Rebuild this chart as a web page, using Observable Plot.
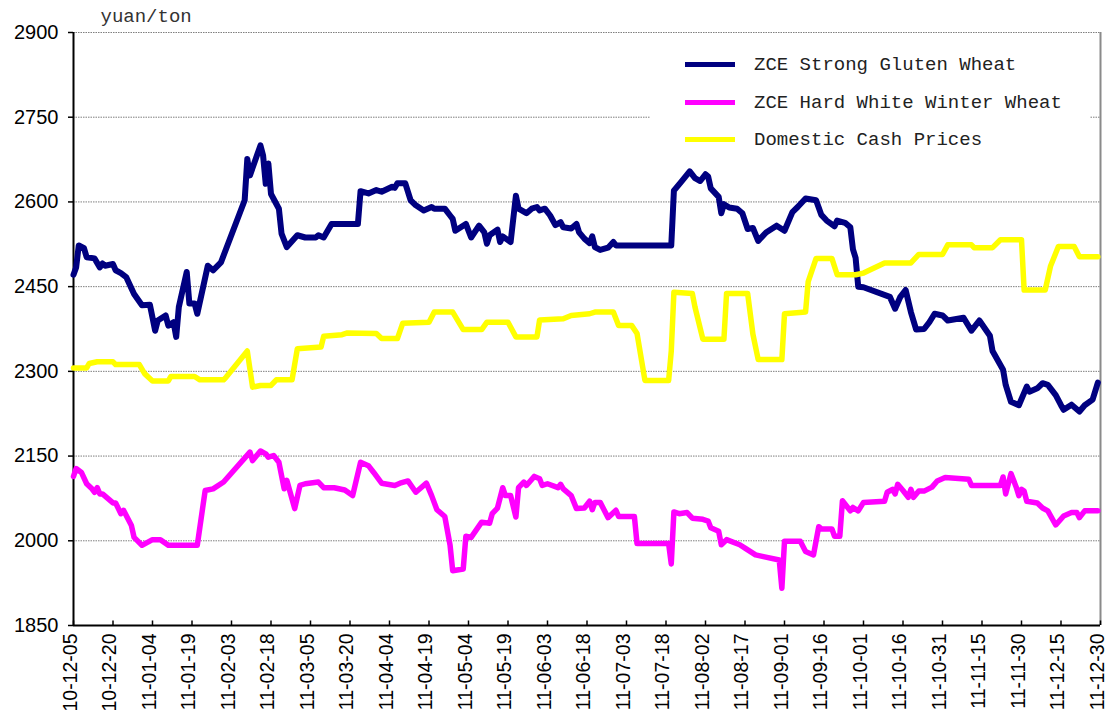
<!DOCTYPE html>
<html><head><meta charset="utf-8">
<script src="https://cdn.jsdelivr.net/npm/d3@7"></script>
<script src="https://cdn.jsdelivr.net/npm/@observablehq/plot@0.6"></script>
<style>
body{margin:0;background:#fff;}
#wrap{position:relative;width:1107px;height:726px;overflow:hidden;background:#fff;}
#legend{position:absolute;left:650px;top:36px;width:440px;height:124px;background:#fff;font-family:"Liberation Mono","DejaVu Sans Mono",monospace;font-size:19px;color:#222;}
.item{position:absolute;left:0;height:20px;}
.sw{position:absolute;left:35px;top:8px;width:50px;height:5px;}
.lb{position:absolute;left:104px;top:0px;white-space:nowrap;}
</style></head>
<body><div id="wrap"><div id="chart"></div><div id="legend"></div></div>
<script>
// ---- data ----
const seriesNames = ["ZCE Strong Gluten Wheat", "ZCE Hard White Winter Wheat", "Domestic Cash Prices"];
const seriesColors = ["#000080", "#FF00FF", "#FFFF00"];
const yTicks = [1850, 2000, 2150, 2300, 2450, 2600, 2750, 2900];
const xTickDates = ["2010-12-05","2010-12-20","2011-01-04","2011-01-19","2011-02-03","2011-02-18","2011-03-05","2011-03-20","2011-04-04","2011-04-19","2011-05-04","2011-05-19","2011-06-03","2011-06-18","2011-07-03","2011-07-18","2011-08-02","2011-08-17","2011-09-01","2011-09-16","2011-10-01","2011-10-16","2011-10-31","2011-11-15","2011-11-30","2011-12-15","2011-12-30"];
const unitLabel = "yuan/ton";

const strongGluten = [
["2010-12-05",2471],["2010-12-06",2484],["2010-12-07",2523],["2010-12-09",2518],["2010-12-10",2502],["2010-12-13",2500],["2010-12-15",2484],["2010-12-16",2491],["2010-12-17",2487],["2010-12-20",2490],["2010-12-21",2479],["2010-12-23",2474],["2010-12-25",2467],["2010-12-28",2437],["2010-12-31",2417],
["2011-01-03",2418],["2011-01-05",2372],["2011-01-06",2390],["2011-01-09",2399],["2011-01-10",2381],["2011-01-12",2387],["2011-01-13",2361],["2011-01-14",2414],["2011-01-17",2476],["2011-01-18",2420],["2011-01-20",2420],["2011-01-21",2402],["2011-01-25",2487],["2011-01-27",2479],["2011-01-30",2493],
["2011-02-08",2603],["2011-02-09",2676],["2011-02-10",2647],["2011-02-14",2700],["2011-02-15",2682],["2011-02-16",2632],["2011-02-17",2668],["2011-02-18",2614],["2011-02-21",2588],["2011-02-22",2544],["2011-02-24",2520],["2011-02-28",2541],
["2011-03-03",2537],["2011-03-07",2537],["2011-03-08",2541],["2011-03-10",2537],["2011-03-13",2561],["2011-03-23",2561],["2011-03-24",2619],["2011-03-27",2615],["2011-03-30",2621],
["2011-04-01",2618],["2011-04-05",2627],["2011-04-06",2625],["2011-04-07",2633],["2011-04-10",2633],["2011-04-12",2603],["2011-04-14",2594],["2011-04-17",2585],["2011-04-20",2591],["2011-04-21",2588],["2011-04-25",2588],["2011-04-27",2576],["2011-04-28",2570],["2011-04-29",2549],
["2011-05-03",2561],["2011-05-05",2537],["2011-05-08",2558],["2011-05-10",2546],["2011-05-11",2526],["2011-05-12",2541],["2011-05-15",2551],["2011-05-16",2529],["2011-05-17",2539],["2011-05-20",2529],["2011-05-22",2611],["2011-05-23",2588],["2011-05-26",2580],["2011-05-28",2588],["2011-05-30",2591],["2011-05-31",2585],
["2011-06-02",2588],["2011-06-04",2576],["2011-06-06",2559],["2011-06-08",2564],["2011-06-09",2555],["2011-06-12",2553],["2011-06-14",2561],["2011-06-15",2546],["2011-06-17",2535],["2011-06-19",2527],["2011-06-20",2539],["2011-06-21",2520],["2011-06-23",2515],["2011-06-26",2519],["2011-06-28",2529],["2011-06-29",2523],
["2011-07-20",2523],["2011-07-21",2620],["2011-07-24",2637],["2011-07-27",2654],["2011-07-29",2642],["2011-07-31",2637],
["2011-08-02",2649],["2011-08-03",2645],["2011-08-04",2624],["2011-08-07",2609],["2011-08-08",2580],["2011-08-09",2596],["2011-08-11",2590],["2011-08-14",2588],["2011-08-16",2580],["2011-08-18",2552],["2011-08-20",2554],["2011-08-22",2531],["2011-08-25",2546],["2011-08-29",2558],
["2011-09-01",2549],["2011-09-04",2582],["2011-09-06",2591],["2011-09-09",2606],["2011-09-13",2603],["2011-09-15",2577],["2011-09-17",2567],["2011-09-20",2557],["2011-09-21",2567],["2011-09-24",2563],["2011-09-26",2555],["2011-09-27",2516],["2011-09-28",2501],["2011-09-29",2450],
["2011-10-01",2449],["2011-10-11",2432],["2011-10-13",2411],["2011-10-15",2432],["2011-10-17",2444],["2011-10-19",2405],["2011-10-21",2374],["2011-10-24",2375],["2011-10-26",2387],["2011-10-28",2402],["2011-10-31",2399],
["2011-11-02",2390],["2011-11-08",2395],["2011-11-11",2372],["2011-11-14",2390],["2011-11-18",2363],["2011-11-19",2336],["2011-11-23",2303],["2011-11-24",2276],["2011-11-26",2246],["2011-11-29",2240],
["2011-12-02",2273],["2011-12-03",2264],["2011-12-06",2270],["2011-12-08",2279],["2011-12-10",2276],["2011-12-13",2258],["2011-12-15",2240],["2011-12-16",2232],["2011-12-19",2241],["2011-12-22",2229],["2011-12-24",2240],["2011-12-27",2250],["2011-12-29",2280]
];

const hardWhiteWinter = [
["2010-12-05",2114],["2010-12-06",2128],["2010-12-08",2121],["2010-12-10",2101],["2010-12-12",2092],["2010-12-13",2086],["2010-12-14",2094],["2010-12-15",2083],["2010-12-16",2083],["2010-12-20",2067],["2010-12-21",2067],["2010-12-23",2048],["2010-12-24",2054],["2010-12-27",2027],["2010-12-28",2006],["2010-12-31",1992],
["2011-01-04",2002],["2011-01-07",2002],["2011-01-10",1992],["2011-01-21",1992],["2011-01-24",2089],["2011-01-27",2092],["2011-01-31",2104],
["2011-02-10",2157],["2011-02-11",2142],["2011-02-14",2159],["2011-02-16",2154],["2011-02-17",2148],["2011-02-19",2151],["2011-02-21",2139],["2011-02-23",2092],["2011-02-24",2107],["2011-02-27",2057],
["2011-03-01",2098],["2011-03-03",2101],["2011-03-08",2104],["2011-03-10",2094],["2011-03-14",2094],["2011-03-18",2090],["2011-03-21",2080],["2011-03-24",2139],["2011-03-27",2133],["2011-03-29",2121],
["2011-04-01",2102],["2011-04-06",2098],["2011-04-08",2102],["2011-04-11",2106],["2011-04-14",2086],["2011-04-18",2102],["2011-04-20",2080],["2011-04-22",2055],["2011-04-25",2043],["2011-04-27",1992],["2011-04-28",1947],
["2011-05-02",1950],["2011-05-03",2008],["2011-05-05",2006],["2011-05-09",2033],["2011-05-12",2031],["2011-05-13",2048],["2011-05-15",2058],["2011-05-17",2094],["2011-05-18",2080],["2011-05-20",2080],["2011-05-22",2042],["2011-05-23",2094],["2011-05-25",2104],["2011-05-26",2098],["2011-05-29",2114],["2011-05-31",2110],
["2011-06-01",2098],["2011-06-03",2101],["2011-06-07",2094],["2011-06-08",2100],["2011-06-09",2092],["2011-06-12",2080],["2011-06-14",2057],["2011-06-17",2058],["2011-06-19",2070],["2011-06-20",2055],["2011-06-21",2068],["2011-06-23",2068],["2011-06-26",2041],["2011-06-29",2054],["2011-06-30",2043],
["2011-07-06",2043],["2011-07-07",1995],["2011-07-19",1995],["2011-07-20",1959],["2011-07-21",2051],["2011-07-23",2048],["2011-07-26",2050],["2011-07-28",2040],
["2011-08-01",2038],["2011-08-03",2035],["2011-08-04",2023],["2011-08-07",2017],["2011-08-08",1993],["2011-08-10",2002],["2011-08-15",1993],["2011-08-17",1987],["2011-08-21",1975],["2011-08-24",1972],["2011-08-30",1966],["2011-08-31",1916],
["2011-09-01",1999],["2011-09-07",1999],["2011-09-09",1981],["2011-09-12",1975],["2011-09-14",2025],["2011-09-15",2021],["2011-09-19",2021],["2011-09-20",2008],["2011-09-22",2008],["2011-09-23",2071],["2011-09-25",2059],["2011-09-26",2053],["2011-09-27",2059],["2011-09-29",2053],
["2011-10-01",2068],["2011-10-09",2070],["2011-10-10",2086],["2011-10-12",2091],["2011-10-13",2083],["2011-10-14",2100],["2011-10-16",2089],["2011-10-18",2077],["2011-10-19",2091],["2011-10-20",2077],["2011-10-22",2088],["2011-10-24",2088],["2011-10-27",2095],["2011-10-29",2106],
["2011-11-01",2112],["2011-11-10",2109],["2011-11-11",2098],["2011-11-22",2098],["2011-11-23",2113],["2011-11-24",2083],["2011-11-26",2119],["2011-11-28",2095],["2011-11-29",2080],["2011-11-30",2091],
["2011-12-01",2088],["2011-12-02",2070],["2011-12-06",2067],["2011-12-08",2058],["2011-12-10",2053],["2011-12-13",2028],["2011-12-16",2044],["2011-12-19",2050],["2011-12-21",2050],["2011-12-22",2041],["2011-12-24",2053],["2011-12-29",2053]
];

const cashPrices = [
["2010-12-05",2306],["2010-12-10",2306],["2010-12-11",2314],["2010-12-14",2317],["2010-12-20",2317],["2010-12-21",2312],["2010-12-30",2312],
["2011-01-01",2296],["2011-01-04",2283],["2011-01-10",2283],["2011-01-11",2291],["2011-01-20",2291],["2011-01-22",2285],["2011-01-31",2285],
["2011-02-01",2290],["2011-02-09",2336],["2011-02-11",2272],["2011-02-14",2275],["2011-02-18",2275],["2011-02-20",2285],["2011-02-26",2285],["2011-02-28",2340],
["2011-03-09",2343],["2011-03-10",2362],["2011-03-17",2365],["2011-03-19",2368],["2011-03-30",2367],
["2011-04-01",2358],["2011-04-07",2358],["2011-04-09",2385],["2011-04-19",2387],["2011-04-21",2405],["2011-04-28",2405],
["2011-05-02",2374],["2011-05-09",2374],["2011-05-11",2387],["2011-05-19",2387],["2011-05-22",2361],["2011-05-30",2361],["2011-05-31",2391],
["2011-06-09",2393],["2011-06-12",2399],["2011-06-19",2402],["2011-06-21",2405],["2011-06-28",2405],["2011-06-30",2381],
["2011-07-05",2381],["2011-07-07",2367],["2011-07-10",2284],["2011-07-19",2284],["2011-07-20",2336],["2011-07-21",2440],["2011-07-28",2438],["2011-07-29",2414],
["2011-08-01",2357],["2011-08-09",2357],["2011-08-10",2438],["2011-08-18",2438],["2011-08-20",2366],["2011-08-22",2321],["2011-08-31",2321],
["2011-09-01",2402],["2011-09-09",2405],["2011-09-10",2459],["2011-09-13",2500],["2011-09-19",2500],["2011-09-21",2471],["2011-09-28",2471],
["2011-10-01",2474],["2011-10-09",2492],["2011-10-19",2492],["2011-10-22",2507],["2011-10-31",2507],
["2011-11-02",2524],["2011-11-11",2524],["2011-11-12",2519],["2011-11-19",2519],["2011-11-22",2533],["2011-11-30",2533],
["2011-12-01",2444],["2011-12-09",2444],["2011-12-11",2486],["2011-12-14",2521],["2011-12-20",2521],["2011-12-22",2503],["2011-12-29",2503]
];

// ---- build ----
const parse = d3.utcParse("%Y-%m-%d");
const rows = (arr) => arr.map(([d, v]) => ({date: parse(d), value: v}));
const xTicks = xTickDates.map(parse);
const xStart = xTicks[0], xEnd = xTicks[xTicks.length - 1];
const allSeries = [strongGluten, hardWhiteWinter, cashPrices];

const chart = Plot.plot({
  width: 1107, height: 726,
  marginLeft: 73, marginRight: 7, marginTop: 32, marginBottom: 101,
  style: {fontFamily: "'Liberation Sans', Arial, sans-serif", fontSize: "20px", background: "white", color: "black", overflow: "visible"},
  x: {type: "utc", domain: [xStart, xEnd]},
  y: {domain: [yTicks[0], yTicks[yTicks.length - 1]]},
  marks: [
    Plot.gridY(yTicks.slice(1), {stroke: "#7f7f7f", strokeOpacity: 1, strokeWidth: 1, strokeDasharray: "1.5,1"}),
    Plot.ruleX([xEnd], {stroke: "#8a8a8a", strokeWidth: 2}),
    Plot.ruleX(xTicks, {y1: yTicks[0], y2: yTicks[0] + 8, stroke: "black", strokeWidth: 1.5}),
    Plot.axisY(yTicks, {tickSize: 5, tickPadding: 10, label: null, fontSize: 20, tickFormat: d => String(d), strokeWidth: 1.5}),
    Plot.axisX(xTicks, {tickSize: 0, tickRotate: -90, tickPadding: 8, fontSize: 19.5, dx: -3, tickFormat: d3.utcFormat("%y-%m-%d"), label: null}),
    Plot.ruleX([xStart], {stroke: "black", strokeWidth: 2}),
    Plot.ruleY([yTicks[0]], {stroke: "black", strokeWidth: 2}),
    ...allSeries.map((s, i) => Plot.line(rows(s), {x: "date", y: "value", stroke: seriesColors[i], strokeWidth: i === 0 ? 6 : 5.5, strokeLinejoin: "round", strokeLinecap: "round"})),
    Plot.text([unitLabel], {text: d => d, frameAnchor: "top-left", textAnchor: "start", lineAnchor: "middle", dx: 27, dy: -17, fontFamily: "'Liberation Mono', monospace", fontSize: 19, fill: "#333"})
  ]
});
document.getElementById("chart").appendChild(chart);

const legend = document.getElementById("legend");
seriesNames.forEach((name, i) => {
  const item = document.createElement("div");
  item.className = "item";
  item.style.top = (18 + i * 37.5) + "px";
  item.innerHTML = `<div class="sw" style="background:${seriesColors[i]}"></div><div class="lb">${name}</div>`;
  legend.appendChild(item);
});
</script>
</body></html>
